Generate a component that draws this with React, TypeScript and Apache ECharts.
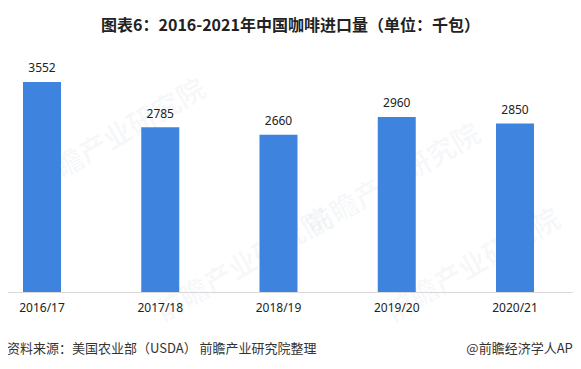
import React, { useEffect, useRef } from "react";
import * as echarts from "echarts";

const categories = ["2016/17", "2017/18", "2018/19", "2019/20", "2020/21"];
const imports = [3552, 2785, 2660, 2960, 2850];
const titleText = "图表6：2016-2021年中国咖啡进口量（单位：千包）";
const sourceText = "资料来源：美国农业部（USDA） 前瞻产业研究院整理";
const brandText = "@前瞻经济学人APP";
const watermark = "前瞻产业研究院";

export default function App() {
  const ref = useRef<HTMLDivElement>(null);
  useEffect(() => {
    const chart = echarts.init(ref.current!, undefined, { renderer: "svg" });
    const font = "'Microsoft YaHei', 'Noto Sans CJK SC', 'Noto Sans', sans-serif";
    const wm = (x: number, y: number) => ({
      type: "text",
      x,
      y,
      rotation: Math.PI / 6,
      z: -1,
      silent: true,
      style: {
        text: watermark,
        fill: "rgba(120,140,170,0.06)",
        font: "bold 28px 'Noto Sans CJK SC', sans-serif",
      },
    });
    chart.setOption({
      animation: false,
      backgroundColor: "#ffffff",
      title: {
        text: titleText,
        left: "center",
        top: 11,
        textStyle: { fontSize: 16, fontWeight: "bold", color: "#222", fontFamily: font },
      },
      grid: [
        { left: 42, right: 66, top: 55.5, bottom: 77 },
        { left: 0, right: 5, top: 55.5, bottom: 77 },
      ],
      xAxis: [
        {
          type: "category",
          gridIndex: 0,
          data: categories,
          boundaryGap: false,
          axisLine: { show: false },
          axisTick: { show: false },
          axisLabel: { color: "#222", fontSize: 12, margin: 9, fontFamily: "'Noto Sans', sans-serif" },
        },
        {
          type: "category",
          gridIndex: 1,
          data: categories,
          axisLine: { show: true, lineStyle: { color: "#d9d9d9", width: 1 } },
          axisTick: { show: false },
          axisLabel: { show: false },
        },
      ],
      yAxis: [
        { type: "value", gridIndex: 0, min: 0, max: 4000, show: false },
        { type: "value", gridIndex: 1, min: 0, max: 4000, show: false },
      ],
      series: [
        {
          type: "bar",
          xAxisIndex: 0,
          yAxisIndex: 0,
          data: imports,
          barWidth: 38,
          itemStyle: { color: "#3E84DF" },
          label: {
            show: true,
            position: "top",
            distance: 8,
            color: "#222",
            fontSize: 12,
            fontFamily: "'Noto Sans', sans-serif",
          },
        },
      ],
      graphic: [
        wm(25, 170),
        wm(300, 215),
        wm(150, 300),
        wm(380, 300),
        {
          type: "text",
          left: 7,
          top: 341,
          style: { text: sourceText, fill: "#333", font: `13px ${font}` },
        },
        {
          type: "text",
          right: 0,
          top: 341,
          style: { text: brandText, fill: "#333", font: `13px ${font}` },
        },
      ],
    });
    return () => chart.dispose();
  }, []);
  return <div ref={ref} style={{ width: 581, height: 369, margin: -8 }} />;
}
